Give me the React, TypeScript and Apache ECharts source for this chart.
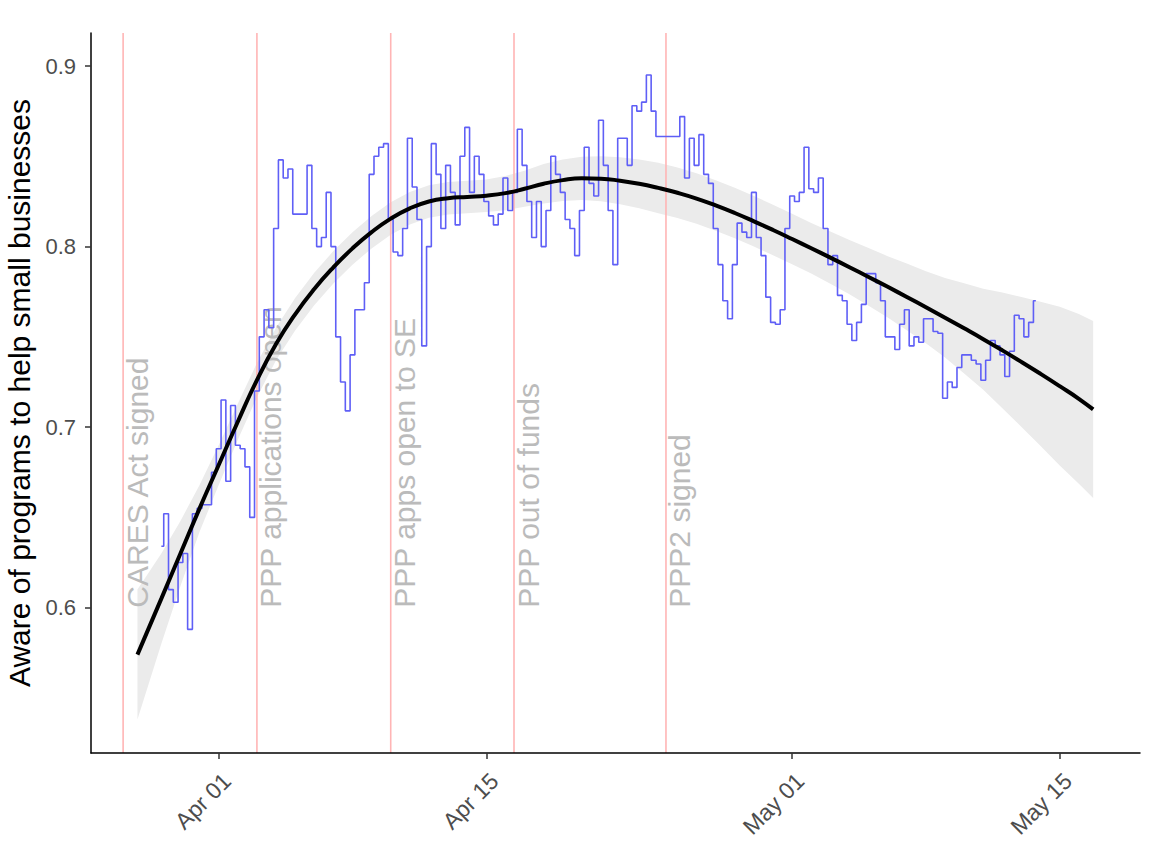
import React, { useEffect, useRef } from 'react';
import * as echarts from 'echarts';

// x values are days relative to Apr 01 (2020)
const X_MIN = -6.68;
const X_MAX = 48.2;
const Y_MIN = 0.5195;
const Y_MAX = 0.9183;

const tickDays = [0, 14, 30, 44];
const tickLabels = ['Apr 01', 'Apr 15', 'May 01', 'May 15'];
const yTicks = [0.6, 0.7, 0.8, 0.9];

const eventDays = [-5, 2, 9, 15.45, 23.4];
const eventLabels = [
  'CARES Act signed',
  'PPP applications open',
  'PPP apps open to SE',
  'PPP out of funds',
  'PPP2 signed',
];
const eventLabelY = 0.6;

// raw share, sampled every quarter day from Mar 29
const blueStart = -3;
const blueStep = 0.25;
const blueValues = [
  0.634, 0.652, 0.61, 0.603, 0.625, 0.63, 0.588, 0.652, 0.655, 0.657,
  0.657, 0.675, 0.688, 0.715, 0.67, 0.712, 0.69, 0.688, 0.678, 0.65,
  0.72, 0.75, 0.765, 0.755, 0.81, 0.848, 0.838, 0.843, 0.818, 0.818,
  0.818, 0.845, 0.81, 0.8, 0.805, 0.83, 0.8, 0.75, 0.725, 0.709,
  0.74, 0.765, 0.765, 0.78, 0.84, 0.85, 0.855, 0.857, 0.815, 0.797,
  0.795, 0.81, 0.86, 0.833, 0.815, 0.745, 0.8, 0.857, 0.84, 0.81,
  0.845, 0.83, 0.812, 0.85, 0.866, 0.83, 0.85, 0.84, 0.825, 0.817,
  0.812, 0.818, 0.838, 0.82, 0.83, 0.865, 0.845, 0.825, 0.805, 0.825,
  0.8, 0.82, 0.85, 0.84, 0.83, 0.815, 0.81, 0.795, 0.82, 0.855,
  0.835, 0.828, 0.87, 0.845, 0.82, 0.79, 0.86, 0.86, 0.845, 0.878,
  0.875, 0.88, 0.895, 0.875, 0.861, 0.861, 0.861, 0.861, 0.861, 0.872,
  0.838, 0.86, 0.845, 0.862, 0.84, 0.835, 0.81, 0.79, 0.77, 0.76,
  0.79, 0.813, 0.808, 0.805, 0.83, 0.805, 0.795, 0.772, 0.758, 0.757,
  0.765, 0.81, 0.828, 0.825, 0.83, 0.855, 0.832, 0.83, 0.838, 0.81,
  0.79, 0.795, 0.773, 0.77, 0.757, 0.748, 0.758, 0.768, 0.785, 0.785,
  0.78, 0.77, 0.75, 0.75, 0.743, 0.757, 0.765, 0.745, 0.75, 0.747,
  0.76, 0.76, 0.753, 0.752, 0.716, 0.725, 0.722, 0.733, 0.74, 0.74,
  0.737, 0.735, 0.726, 0.737, 0.748, 0.745, 0.74, 0.728, 0.742, 0.762,
  0.76, 0.75, 0.758, 0.77,
];

// loess fit and the half-width of its confidence band
const fitDays = [
  -4.25, -3, -2, -1, 0, 1, 2, 3, 4, 5, 6, 7, 8, 9, 10, 11, 12, 13, 14, 15, 16,
  17, 18, 19, 20, 21, 22, 23, 24, 25, 26, 27, 28, 29, 30, 31, 32, 33, 34, 35,
  36, 37, 38, 39, 40, 41, 42, 43, 44, 45, 45.75,
];
const fitValues = [
  0.574, 0.605, 0.63, 0.655, 0.679, 0.703, 0.726, 0.746, 0.7625, 0.7765, 0.7885,
  0.799, 0.808, 0.8155, 0.8212, 0.825, 0.8268, 0.8275, 0.8282, 0.8296, 0.832,
  0.8348, 0.8368, 0.8378, 0.8376, 0.8365, 0.8348, 0.8325, 0.8298, 0.8266,
  0.8228, 0.8186, 0.814, 0.8092, 0.8042, 0.7991, 0.7939, 0.7886, 0.7832,
  0.7777, 0.7721, 0.7664, 0.7606, 0.7547, 0.7487, 0.7425, 0.7361, 0.7295,
  0.7227, 0.7157, 0.7098,
];
const ciHalf = [
  0.036, 0.025, 0.018, 0.013, 0.011, 0.01, 0.0095, 0.009, 0.009, 0.009, 0.009,
  0.009, 0.009, 0.009, 0.009, 0.009, 0.009, 0.009, 0.009, 0.0095, 0.01, 0.011,
  0.0115, 0.012, 0.0125, 0.013, 0.0135, 0.014, 0.014, 0.014, 0.014, 0.014,
  0.014, 0.014, 0.014, 0.014, 0.0145, 0.015, 0.016, 0.017, 0.0185, 0.02, 0.022,
  0.025, 0.028, 0.032, 0.036, 0.04, 0.044, 0.047, 0.049,
];

const FONT = "'Liberation Sans', Arial, sans-serif";

function buildOption(): any {
  return {
    animation: false,
    backgroundColor: '#ffffff',
    textStyle: { fontFamily: FONT },
    grid: {
      left: 91,
      right: 15,
      top: 33,
      bottom: 93,
      containLabel: false,
      outerBoundsMode: 'none',
    },
    xAxis: {
      type: 'value',
      min: X_MIN,
      max: X_MAX,
      z: 10,
      splitLine: { show: false },
      axisLine: { show: true, onZero: false, lineStyle: { color: '#000', width: 1.5 } },
      axisTick: {
        show: true,
        customValues: tickDays,
        length: 6,
        lineStyle: { color: '#333', width: 1.5 },
      },
      axisLabel: {
        customValues: tickDays,
        formatter: (v: number) => {
          const i = tickDays.indexOf(v);
          return i >= 0 ? tickLabels[i] : '';
        },
        rotate: 45,
        verticalAlign: 'top',
        margin: 16,
        fontSize: 23,
        color: '#4D4D4D',
        fontFamily: FONT,
      },
    },
    yAxis: {
      type: 'value',
      min: Y_MIN,
      max: Y_MAX,
      z: 10,
      name: 'Aware of programs to help small businesses',
      nameLocation: 'middle',
      nameRotate: 90,
      nameGap: 52,
      nameTextStyle: { fontSize: 30, color: '#000', fontFamily: FONT },
      splitLine: { show: false },
      axisLine: { show: true, onZero: false, lineStyle: { color: '#000', width: 1.5 } },
      axisTick: {
        show: true,
        customValues: yTicks,
        length: 6,
        lineStyle: { color: '#333', width: 1.5 },
      },
      axisLabel: {
        customValues: yTicks,
        formatter: (v: number) => v.toFixed(1),
        margin: 15,
        fontSize: 22,
        color: '#4D4D4D',
        fontFamily: FONT,
      },
    },
    series: [
      {
        name: 'ciBand',
        type: 'custom',
        silent: true,
        z: 1,
        encode: { x: 0, y: 1 },
        data: [[fitDays[0], fitValues[0]]],
        renderItem: (_params: any, api: any) => {
          const upper = fitDays.map((d, i) => api.coord([d, fitValues[i] + ciHalf[i]]));
          const lower = fitDays
            .map((d, i) => api.coord([d, fitValues[i] - ciHalf[i]]))
            .reverse();
          return {
            type: 'polygon',
            shape: { points: upper.concat(lower) },
            style: { fill: '#EBEBEB' },
          };
        },
      },
      {
        name: 'eventLines',
        type: 'custom',
        silent: true,
        z: 2,
        encode: { x: 0, y: 1 },
        data: eventDays.map((d) => [d, eventLabelY]),
        renderItem: (_params: any, api: any) => {
          const d = api.value(0);
          const top = api.coord([d, Y_MAX]);
          const bot = api.coord([d, Y_MIN]);
          return {
            type: 'line',
            shape: { x1: top[0], y1: top[1], x2: bot[0], y2: bot[1] },
            style: { stroke: '#FFB5B5', lineWidth: 1.6 },
          };
        },
      },
      {
        name: 'eventText',
        type: 'custom',
        silent: true,
        z: 3,
        encode: { x: 0, y: 1 },
        data: eventDays.map((d) => [d, eventLabelY]),
        renderItem: (params: any, api: any) => {
          const p = api.coord([api.value(0), api.value(1)]);
          return {
            type: 'text',
            x: p[0] + 14,
            y: p[1],
            rotation: Math.PI / 2,
            style: {
              text: eventLabels[params.dataIndex],
              fontSize: 30,
              fontFamily: FONT,
              fill: '#BBBBBB',
              align: 'left',
              verticalAlign: 'middle',
            },
          };
        },
      },
      {
        name: 'aware',
        type: 'line',
        data: blueValues.map((v, i) => [blueStart + i * blueStep, v]),
        symbol: 'none',
        step: 'middle',
        lineStyle: { color: '#5F5FF6', width: 1.6 },
        z: 4,
      },
      {
        name: 'fit',
        type: 'line',
        data: fitDays.map((d, i) => [d, fitValues[i]]),
        smooth: true,
        symbol: 'none',
        lineStyle: { color: '#000', width: 4 },
        z: 5,
      },
    ],
  };
}

export default function App() {
  const ref = useRef<HTMLDivElement>(null);
  useEffect(() => {
    if (!ref.current) return;
    const chart = echarts.init(ref.current, null, { renderer: 'svg' });
    chart.setOption(buildOption());
    return () => chart.dispose();
  }, []);
  return (
    <div
      ref={ref}
      style={{ position: 'absolute', left: 0, top: 0, width: 1155, height: 846, background: '#fff' }}
    />
  );
}
